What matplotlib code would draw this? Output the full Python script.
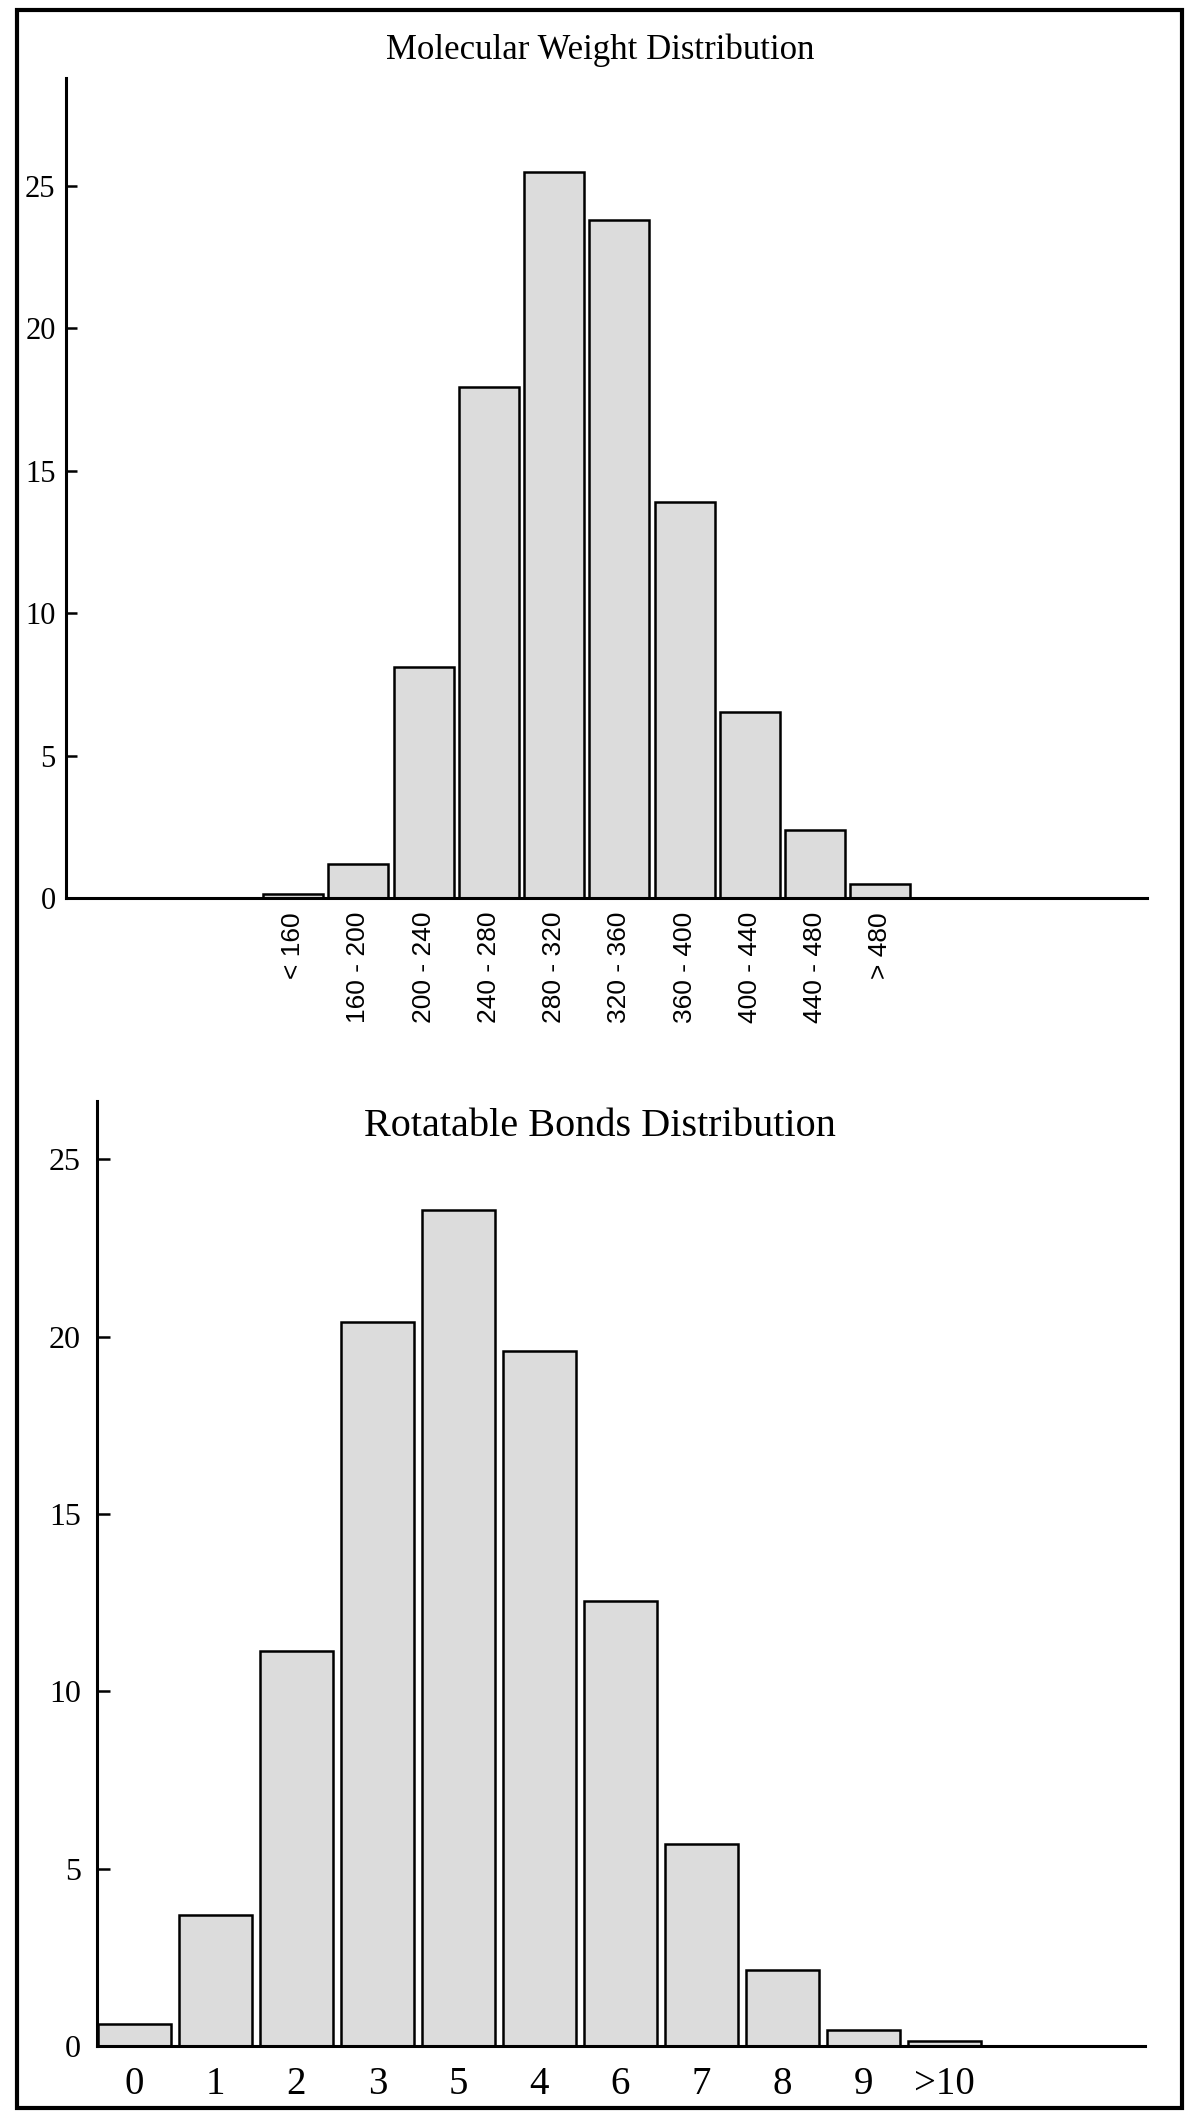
import numpy as np
import matplotlib
matplotlib.use('Agg')
import matplotlib.pyplot as plt
from matplotlib.patches import Rectangle

# molecular weight bins (percent of compounds)
mw_bins = ['< 160', '160 - 200', '200 - 240', '240 - 280', '280 - 320',
	'320 - 360', '360 - 400', '400 - 440', '440 - 480', '> 480']
mw_pct = [0.15, 1.2, 8.1, 17.95, 25.5, 23.8, 13.9, 6.55, 2.4, 0.48]

# rotatable bonds bins (percent of compounds)
rb_bins = ['0', '1', '2', '3', '5', '4', '6', '7', '8', '9', '>10']
rb_pct = [0.62, 3.7, 11.15, 20.42, 23.58, 19.6, 12.55, 5.7, 2.15, 0.45, 0.13]

plt.rcParams['font.family'] = ['Liberation Serif', 'DejaVu Serif']

fig = plt.figure(figsize=(12, 21.17), dpi=100)

# frame around the whole figure
fig.patches.append(Rectangle((0.0142, 0.0043), 0.9708, 0.991, transform=fig.transFigure,
	fill=False, lw=3.0, ec='black'))


def style_axes(ax, ylabsize, ticklen, ypad):
	for s in ['top', 'right']:
		ax.spines[s].set_visible(False)
	for s in ['left', 'bottom']:
		ax.spines[s].set_linewidth(2.2)
		ax.spines[s].set_color('black')
	ax.tick_params(axis='y', direction='in', length=ticklen, width=1.8,
		labelsize=ylabsize, pad=ypad)
	ax.set_yticks([0, 5, 10, 15, 20, 25])


# top panel: molecular weight
ax1 = fig.add_axes([0.055, 0.5758, 0.901, 0.3874])
x1 = np.arange(len(mw_bins))
ax1.bar(x1, mw_pct, width=0.92, color='#dcdcdc', edgecolor='black', linewidth=1.8)
ax1.set_xlim(-3.48, 13.09)
ax1.set_ylim(0, 28.8)
style_axes(ax1, 22, 8, 7.5)
ax1.set_xticks(x1)
ax1.set_xticklabels(mw_bins, rotation=90, fontsize=19, family='Liberation Sans')
ax1.tick_params(axis='x', length=0, pad=10)
fig.text(0.5, 1 - 50 / 2117, 'Molecular Weight Distribution', ha='center', va='center',
	fontsize=25)

# bottom panel: rotatable bonds
ax2 = fig.add_axes([0.0808, 0.0335, 0.8733, 0.4465])
x2 = np.arange(len(rb_bins))
ax2.bar(x2, rb_pct, width=0.9, color='#dcdcdc', edgecolor='black', linewidth=1.8)
ax2.set_xlim(-0.46, 12.47)
ax2.set_ylim(0, 26.65)
style_axes(ax2, 23, 9, 11.5)
ax2.set_xticks(x2)
ax2.set_xticklabels(rb_bins, fontsize=28)
ax2.tick_params(axis='x', length=0, pad=14)
fig.text(0.5, 1 - 1127 / 2117, 'Rotatable Bonds Distribution', ha='center', va='center',
	fontsize=29)

plt.savefig('out.png', dpi=100)
